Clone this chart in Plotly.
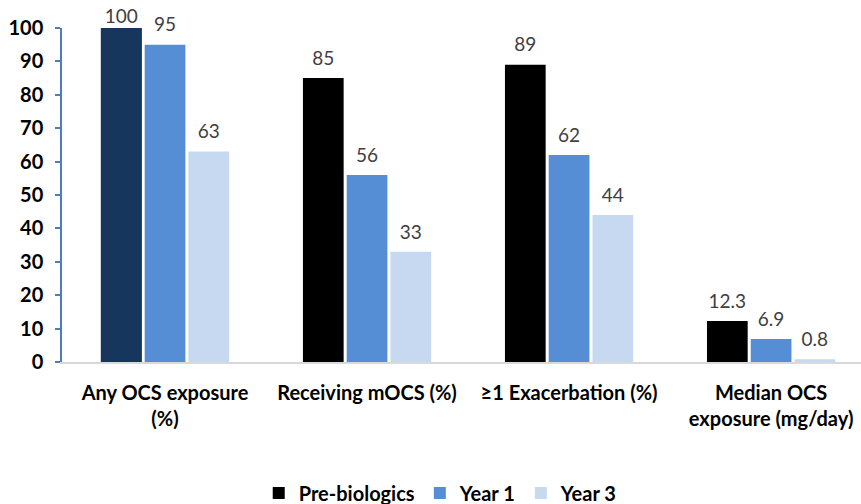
import plotly.graph_objects as go

categories = ["Any OCS exposure<br>(%)", "Receiving mOCS (%)", "≥1 Exacerbation (%)",
              "Median OCS<br>exposure (mg/day)"]
pre_biologics = [100, 85, 89, 12.3]
year_1 = [95, 56, 62, 6.9]
year_3 = [63, 33, 44, 0.8]
pre_labels = ["100", "85", "89", "12.3"]
y1_labels = ["95", "56", "62", "6.9"]
y3_labels = ["63", "33", "44", "0.8"]

FONT = "Lato"
C_PRE = "#000000"
C_PRE_FIRST = "#17365D"
C_Y1 = "#558ED5"
C_Y3 = "#C6D9F1"
LABEL_FONT = dict(family=FONT, size=19, color="#404040")

fig = go.Figure()

series = [
    ("Pre-biologics", "pre", pre_biologics, pre_labels, C_PRE),
    ("Year 1", "y1", year_1, y1_labels, C_Y1),
    ("Year 3", "y3", year_3, y3_labels, C_Y3),
]
for name, grp, vals, labels, color in series:
    fig.add_trace(go.Bar(
        x=categories, y=vals, name=name, offsetgroup=grp,
        marker=dict(color=color, line=dict(width=0)),
        hoverinfo="x+y",
    ))

# first pre-biologics bar is drawn in navy over the black one
fig.add_trace(go.Bar(
    x=categories[:1], y=pre_biologics[:1], offsetgroup="pre", showlegend=False,
    marker=dict(color=C_PRE_FIRST, line=dict(width=0)), hoverinfo="x+y",
))

# value labels, grouped like the bars; the label of a full-height bar sits closer
for name, grp, vals, labels, color in series:
    fig.add_trace(go.Scatter(
        x=categories, y=vals, mode="markers+text", text=labels,
        orientation="v", offsetgroup=grp,
        textposition="top center", textfont=LABEL_FONT,
        marker=dict(size=[0 if v >= 100 else 12 for v in vals],
                    color="rgba(0,0,0,0)", line=dict(width=0)),
        showlegend=False, hoverinfo="skip", cliponaxis=False,
    ))

fig.update_layout(
    width=861, height=504,
    margin=dict(l=62, r=0, t=28, b=142),
    paper_bgcolor="white", plot_bgcolor="white",
    barmode="group", bargap=0.35, bargroupgap=0.07,
    scattermode="group", scattergap=0.35,
    font=dict(family=FONT, color="#000000"),
    legend=dict(orientation="h", x=0.474, xanchor="center",
                yref="container", y=0.022, yanchor="middle",
                font=dict(family=FONT, size=20, color="#000000", weight="bold"),
                traceorder="normal"),
    xaxis=dict(
        range=[-0.51, 3.445], showgrid=False, zeroline=False,
        showline=True, linecolor="#D9D9D9", linewidth=1.5,
        ticks="", ticklabelstandoff=12,
        tickfont=dict(family=FONT, size=20, color="#000000", weight="bold"),
    ),
    yaxis=dict(
        range=[0, 100], dtick=10, showgrid=False, zeroline=False,
        showline=True, linecolor="#4A7EC0", linewidth=1.5,
        ticks="outside", ticklen=5, tickcolor="#4A7EC0", tickwidth=1.5,
        ticklabelstandoff=8,
        tickfont=dict(family=FONT, size=20, color="#000000", weight="bold"),
    ),
)

fig.write_html("out.html")
